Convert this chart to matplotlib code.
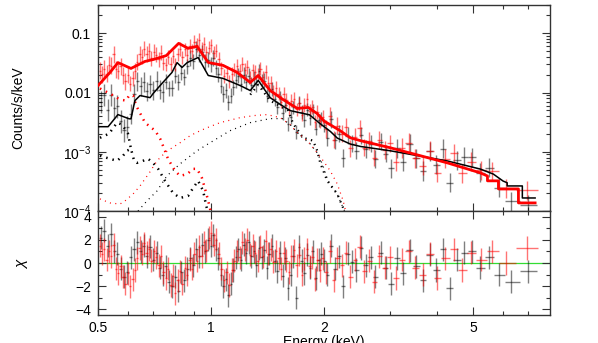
import numpy as np
import matplotlib
matplotlib.use('Agg')
import matplotlib.pyplot as plt
from matplotlib.ticker import FixedLocator, FixedFormatter, NullFormatter

plt.rcParams['font.family'] = ['Liberation Sans', 'DejaVu Sans']
plt.rcParams['mathtext.fontset'] = 'custom'
plt.rcParams['mathtext.rm'] = 'Liberation Sans'
plt.rcParams['mathtext.it'] = 'Liberation Sans:italic'
plt.rcParams['font.size'] = 10

# ---- binned data: energies (keV) and residuals (chi) ----
red_e = [0.505, 0.512, 0.519, 0.527, 0.534, 0.542, 0.550, 0.558, 0.566, 0.574,
         0.583, 0.591, 0.600, 0.609, 0.618, 0.627, 0.636, 0.645, 0.655, 0.664,
         0.674, 0.684, 0.694, 0.704, 0.715, 0.725, 0.736, 0.747, 0.758, 0.769,
         0.780, 0.792, 0.803, 0.815, 0.827, 0.839, 0.852, 0.864, 0.877, 0.890,
         0.903, 0.917, 0.930, 0.944, 0.958, 0.972, 0.986,
         1.000, 1.016, 1.032, 1.049, 1.066, 1.083, 1.100, 1.118, 1.136, 1.154,
         1.173, 1.192, 1.211, 1.230, 1.250, 1.270, 1.290, 1.311, 1.332, 1.353,
         1.375, 1.397, 1.420, 1.442, 1.466, 1.489, 1.513, 1.537, 1.562, 1.587,
         1.612, 1.638, 1.665, 1.691, 1.719, 1.746, 1.774, 1.803, 1.832, 1.861,
         1.891, 1.921, 1.952, 1.983,
         2.02, 2.07, 2.12, 2.17, 2.23, 2.29, 2.35, 2.42, 2.49, 2.56, 2.64, 2.72,
         2.81, 2.90,
         3.00, 3.11, 3.23, 3.36, 3.50, 3.66, 3.83, 4.01, 4.21, 4.43, 4.67, 4.94,
         5.25, 5.60, 6.10, 6.95]
red_chi = [1.5, 0.8, 1.2, 0.3, 1.0, 0.6, 1.6, -0.5, -0.9, -0.3,
           -1.2, -1.8, -0.9, -2.0, -1.4, -0.6, 0.4, 1.3, 0.8, 1.7,
           0.9, 1.2, 0.2, 1.0, 0.5, -0.2, 0.6, -0.8, -1.3, -0.5,
           -1.9, -1.1, -2.6, -1.5, -0.7, -1.8, -0.4, -1.0, 0.3, -0.5,
           0.8, 0.2, 1.4, 0.6, 1.8, 1.1, 2.2,
           2.6, 1.6, 2.0, 0.8, -0.5, -1.5, -0.8, -1.9, -0.6, 0.2,
           1.0, 0.5, 1.8, 1.2, 2.0, 0.7, 1.5, 0.9, 0.2, 1.4,
           0.6, 1.9, 0.8, 1.2, 0.1, 1.0, 0.4, -0.5, 0.9, 0.2,
           -0.8, 0.6, 1.1, -0.2, 0.7, -1.0, 0.4, 1.2, -0.3, 0.5,
           -1.4, 0.3, -0.6, 0.4,
           -0.8, 1.0, -1.5, 0.4, -0.2, 0.9, -1.2, 0.3, 1.4, -0.7, 0.2, -1.6,
           0.6, -0.4,
           0.5, -1.3, 0.3, 1.0, -0.4, -1.0, 0.8, -1.3, 0.4, 1.2, -0.6, 0.9,
           0.3, 1.0, 0.0, 1.3]

black_e = [0.508, 0.519, 0.530, 0.541, 0.552, 0.563, 0.575, 0.587, 0.599, 0.611,
           0.623, 0.636, 0.649, 0.662, 0.675, 0.688, 0.702, 0.716, 0.730, 0.744,
           0.758, 0.772, 0.787, 0.802, 0.817, 0.832, 0.848, 0.864, 0.880, 0.896,
           0.913, 0.930, 0.947, 0.964, 0.982,
           1.000, 1.015, 1.030, 1.046, 1.062, 1.078, 1.095, 1.112, 1.129, 1.147,
           1.165, 1.183, 1.202, 1.221, 1.240, 1.260, 1.280, 1.300, 1.321, 1.342,
           1.364, 1.386, 1.408, 1.431, 1.454, 1.478, 1.502, 1.527, 1.552, 1.578,
           1.604, 1.631, 1.658, 1.686, 1.715, 1.744, 1.774, 1.805, 1.836, 1.868,
           1.900, 1.934, 1.968,
           2.00, 2.04, 2.09, 2.14, 2.19, 2.25, 2.31, 2.37, 2.44, 2.51, 2.58, 2.66,
           2.74, 2.83, 2.92,
           3.02, 3.13, 3.25, 3.38, 3.52, 3.67, 3.82, 3.98, 4.15, 4.33, 4.52, 4.73,
           4.96, 5.22, 5.50, 5.85, 6.30, 7.00]
black_chi = [2.2, 2.8, 1.5, 2.5, 1.0, 0.8, -0.5, -1.2, -0.8, 0.5,
             1.2, 1.8, 1.0, 1.5, 0.6, 1.4, 0.3, 0.9, -0.4, -1.0,
             -0.3, -1.6, -2.0, -1.2, -2.4, -0.8, -1.5, -0.5, 0.4, -0.2,
             1.2, 0.6, 1.6, 1.0, 2.0,
             1.5, 2.4, 1.2, 0.4, -1.0, -2.0, -1.4, -2.8, -1.8, -0.6,
             0.5, 1.2, 0.3, 1.6, 0.9, 1.8, 0.6, 1.0, -0.2, 1.3,
             0.5, 1.1, -0.4, 0.8, 1.5, 0.2, -0.7, 0.9, -1.1, 0.4,
             -2.2, -1.0, 0.6, -3.0, 1.4, 0.2, -0.9, 0.7, -0.4, 1.0,
             -1.3, 0.3, 0.8,
             0.2, -1.0, 1.5, -0.5, 0.6, -2.0, 0.8, 0.1, -0.6, 1.3, -0.2, 0.5,
             -1.2, 0.9, -0.4,
             -1.8, 0.4, -0.9, 1.1, -0.3, -1.5, 0.7, -0.6, 1.2, -2.2, 0.3, 0.9,
             1.0, -0.4, 0.5, -1.0, -1.6, -0.7]

# relative 1-sigma errors of the count rates, per energy band
err_edges = [0.5, 0.6, 0.75, 1.4, 2.0, 3.0, 8.0]
red_rel = [0.4, 0.35, 0.3, 0.3, 0.4, 0.45]
black_rel = [0.55, 0.45, 0.35, 0.3, 0.4, 0.45]

# ---- total models ----
red_model_e = [0.5, 0.538, 0.565, 0.612, 0.667, 0.701, 0.76, 0.82, 0.869, 0.918,
               0.983, 1.077, 1.174, 1.272, 1.336, 1.437, 1.556, 1.697, 1.815,
               1.918, 2.0, 2.2, 2.35, 2.5, 3.0, 4.26, 5.22, 5.45, 5.45, 5.83,
               5.83, 6.59, 6.59, 7.3]
red_model_f = [0.0131, 0.0218, 0.032, 0.0255, 0.0335, 0.036, 0.042, 0.0676, 0.0557,
               0.0602, 0.0322, 0.0287, 0.0218, 0.0148, 0.0194, 0.0108, 0.0076,
               0.0054, 0.0056, 0.0044, 0.0033, 0.0023, 0.00172, 0.00154, 0.00117,
               0.00065, 0.00044, 0.00039, 0.000323, 0.000323, 0.000236, 0.000236,
               0.000137, 0.000137]
black_model_e = [0.5, 0.532, 0.565, 0.605, 0.612, 0.627, 0.647, 0.688, 0.701, 0.74,
                 0.787, 0.812, 0.837, 0.864, 0.924, 0.983, 1.077, 1.196, 1.272,
                 1.336, 1.437, 1.50, 1.625, 1.83, 1.95, 2.08, 2.17, 2.35, 2.5, 3.0,
                 4.26, 5.22, 5.65, 6.0, 6.15, 6.15, 6.75, 6.75, 7.3]
black_model_f = [0.00265, 0.00265, 0.00424, 0.0036, 0.0036, 0.0073, 0.0089, 0.0082,
                 0.0096, 0.0142, 0.0218, 0.032, 0.0265, 0.032, 0.039, 0.0194, 0.0173,
                 0.0131, 0.0108, 0.016, 0.0082, 0.0068, 0.00495, 0.0042, 0.0030,
                 0.0022, 0.0017, 0.00135, 0.00123, 0.00104, 0.0007, 0.00051, 0.00042,
                 0.00032, 0.0003, 0.000265, 0.000265, 0.000166, 0.000166]

# ---- model components (dotted) ----
red_soft_e = [0.506, 0.538, 0.572, 0.594, 0.605, 0.620, 0.632, 0.667, 0.688, 0.710,
              0.732, 0.754, 0.768, 0.802, 0.827, 0.864, 0.896, 0.918, 0.946, 0.964,
              0.983, 1.0]
red_soft_f = [0.0117, 0.0096, 0.0076, 0.0073, 0.0089, 0.0089, 0.006, 0.0031, 0.00265,
              0.00227, 0.00166, 0.00104, 0.00076, 0.000476, 0.000392, 0.00042,
              0.000515, 0.000515, 0.00036, 0.000236, 0.000148, 9.2e-5]
black_soft_e = [0.506, 0.538, 0.562, 0.583, 0.597, 0.612, 0.624, 0.635, 0.659, 0.680,
                0.701, 0.723, 0.754, 0.792, 0.827, 0.869, 0.896, 0.924, 0.953, 0.971,
                0.983]
black_soft_f = [0.000858, 0.00076, 0.000704, 0.000858, 0.00104, 0.00112, 0.000704,
                0.00065, 0.000704, 0.00076, 0.00065, 0.000515, 0.000323, 0.000202,
                0.000166, 0.00018, 0.000245, 0.000323, 0.000218, 0.000122, 9.2e-5]
black_line_e = [0.506, 0.535, 0.562, 0.580, 0.601, 0.612]
black_line_f = [0.00172, 0.00202, 0.0031, 0.00287, 0.00202, 0.00112]
red_hard_e = [0.506, 0.538, 0.572, 0.590, 0.620, 0.647, 0.688, 0.718, 0.754, 0.788,
              0.827, 0.880, 0.936, 0.977, 1.057, 1.196, 1.312, 1.411, 1.528, 1.625,
              1.697, 1.805, 1.918, 1.99, 2.078, 2.169, 2.25, 2.29]
red_hard_f = [0.00016, 0.000137, 0.000131, 0.000148, 0.000194, 0.000265, 0.00046,
              0.000704, 0.00096, 0.00117, 0.00142, 0.00187, 0.00227, 0.00255, 0.0031,
              0.00377, 0.0041, 0.00424, 0.00377, 0.00287, 0.0021, 0.00154, 0.00096,
              0.000704, 0.000476, 0.000287, 0.000148, 9.2e-5]
black_hard_e = [0.639, 0.675, 0.718, 0.763, 0.827, 0.918, 0.994, 1.124, 1.272, 1.437,
                1.547, 1.625, 1.727, 1.837, 1.918, 1.979, 2.05, 2.169, 2.25, 2.29]
black_hard_f = [1e-4, 0.000148, 0.000218, 0.000392, 0.000625, 0.00104, 0.00142,
                0.00227, 0.0031, 0.00363, 0.00363, 0.00287, 0.00187, 0.00136,
                0.00096, 0.000625, 0.000323, 0.000194, 0.000112, 8.9e-5]
black_main_e = [1.272, 1.336, 1.437, 1.50, 1.605, 1.655, 1.76, 1.87, 1.918, 1.954,
                2.04, 2.169, 2.25, 2.29]
black_main_f = [0.0092, 0.0135, 0.0073, 0.0063, 0.00495, 0.00298, 0.00172, 0.00154,
                0.00104, 0.00065, 0.000323, 0.000194, 0.000112, 8.9e-5]


def half_widths(e):
    e = np.asarray(e)
    mid = np.sqrt(e[1:] * e[:-1])
    lo = np.concatenate([[e[0] ** 2 / mid[0]], mid])
    hi = np.concatenate([mid, [e[-1] ** 2 / mid[-1]]])
    return e - lo, hi - e


def model_at(e, me, mf):
    return 10 ** np.interp(np.log10(e), np.log10(me), np.log10(mf))


def spectrum(e, chi, rel, me, mf):
    # data point = model shifted by chi sigma (sigma taken symmetric in log)
    e = np.asarray(e)
    chi = np.asarray(chi)
    r = np.asarray(rel)[np.clip(np.searchsorted(err_edges, e) - 1, 0, len(rel) - 1)]
    m = model_at(e, me, mf)
    d = m * (1 + r) ** chi
    return d, d - d / (1 + r), d * r


fig = plt.figure(figsize=(5.98, 3.43), dpi=100)
ax1 = fig.add_axes([0.1639, 0.3848, 0.7559, 0.6006])
ax2 = fig.add_axes([0.1639, 0.0816, 0.7559, 0.3032], sharex=ax1)

series = [
    (black_e, black_chi, black_rel, black_model_e, black_model_f, 'black', 0.5),
    (red_e, red_chi, red_rel, red_model_e, red_model_f, 'red', 0.55),
]
for e, chi, rel, me, mf, col, a in series:
    d, lo, hi = spectrum(e, chi, rel, me, mf)
    xl, xh = half_widths(e)
    ax1.errorbar(e, d, xerr=[xl, xh], yerr=[lo, hi], fmt='none', ecolor=col,
                 elinewidth=1.0, alpha=a, zorder=2)
    ax2.errorbar(e, chi, xerr=[xl, xh], yerr=np.ones(len(e)), fmt='none',
                 ecolor=col, elinewidth=1.0, alpha=a, zorder=2)

thick = (0, (0.6, 2.0))
thin = (0, (0.8, 3.5))
ax1.plot(red_soft_e, red_soft_f, color='red', lw=1.8, ls=thick, zorder=3)
ax1.plot(black_soft_e, black_soft_f, color='black', lw=1.8, ls=thick, zorder=3)
ax1.plot(black_line_e, black_line_f, color='black', lw=1.8, ls=thick, zorder=3)
ax1.plot(black_main_e, black_main_f, color='black', lw=1.6, ls=thick, zorder=3)
ax1.plot(red_hard_e, red_hard_f, color='red', lw=0.9, ls=thin, zorder=3)
ax1.plot(black_hard_e, black_hard_f, color='black', lw=0.9, ls=thin, zorder=3)

ax1.plot(black_model_e, black_model_f, color='black', lw=1.1, zorder=4)
ax1.plot(red_model_e, red_model_f, color='red', lw=2.0, zorder=5)

ax2.axhline(0, color='#33dd33', lw=0.9, zorder=1)

ax1.set_xscale('log')
ax1.set_yscale('log')
ax1.set_xlim(0.5, 8.0)
ax1.set_ylim(1e-4, 0.3)
ax2.set_ylim(-4.5, 4.5)

ax1.yaxis.set_major_locator(FixedLocator([1e-4, 1e-3, 1e-2, 1e-1]))
ax1.yaxis.set_major_formatter(FixedFormatter([r'$10^{-4}$', r'$10^{-3}$', '0.01', '0.1']))
minors = [k * 10.0 ** p for p in range(-4, 0) for k in range(2, 10)]
ax1.yaxis.set_minor_locator(FixedLocator(minors))
ax1.yaxis.set_minor_formatter(NullFormatter())

ax2.xaxis.set_major_locator(FixedLocator([0.5, 1, 2, 5]))
ax2.xaxis.set_major_formatter(FixedFormatter(['0.5', '1', '2', '5']))
ax2.xaxis.set_minor_locator(FixedLocator([0.6, 0.7, 0.8, 0.9, 3, 4, 6, 7]))
ax2.xaxis.set_minor_formatter(NullFormatter())
ax2.yaxis.set_major_locator(FixedLocator([-4, -2, 0, 2, 4]))
ax2.yaxis.set_minor_locator(FixedLocator([-3, -1, 1, 3]))
ax1.tick_params(axis='x', which='both', labelbottom=False)

for ax in (ax1, ax2):
    ax.tick_params(which='both', direction='in', top=True, right=True,
                   color='#333333', labelsize=10, pad=5)
    ax.tick_params(which='major', length=6, width=0.8)
    ax.tick_params(which='minor', length=3, width=0.8)
    for s in ax.spines.values():
        s.set_color('#333333')
        s.set_linewidth(1.0)
ax2.tick_params(axis='x', pad=4)

ax1.set_ylabel('Counts/s/keV', fontsize=10)
ax1.yaxis.set_label_coords(-0.162, 0.5)
ax2.set_ylabel(r'$\chi$', fontsize=11)
ax2.yaxis.set_label_coords(-0.15, 0.5)
fig.text(0.541, 0.024, 'Energy (keV)', ha='center', va='top', fontsize=10)

fig.savefig('out.png', dpi=100)
